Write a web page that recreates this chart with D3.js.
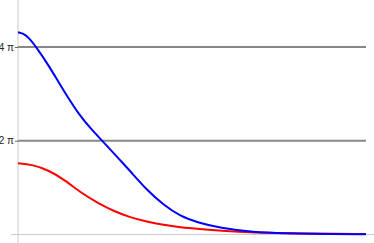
<!DOCTYPE html>
<html>
<head>
<meta charset="utf-8">
<script src="https://cdn.jsdelivr.net/npm/d3@7"></script>
<style>
  body { margin: 0; background: #fff; }
  svg { display: block; }
</style>
</head>
<body>
<script>
    // blue curve
    var blueT = [0, 0.15, 0.30, 0.54, 0.87, 1.16, 1.45, 1.73, 2.12, 2.45, 2.93, 3.22, 3.70, 4.18, 4.66, 5.18, 5.80, 6.75, 7.72, 8.68, 10];
    var blueV = [13.55, 13.47, 13.22, 12.52, 11.36, 10.24, 9.13, 8.12, 7.00, 6.22, 4.99, 4.26, 2.99, 1.98, 1.22, 0.79, 0.44, 0.15, 0.08, 0.03, 0.01];

    // red curve
    var redT = [0, 0.39, 0.87, 1.35, 1.83, 2.31, 2.79, 3.22, 3.70, 4.18, 4.66, 5.23, 5.80, 6.75, 8.10, 10];
    var redV = [4.77, 4.70, 4.32, 3.65, 2.76, 2.09, 1.53, 1.15, 0.86, 0.64, 0.48, 0.36, 0.25, 0.13, 0.07, 0.03];

    var yTicks = [2 * Math.PI, 4 * Math.PI];
    var yTickLabels = ["2 \u03c0", "4 \u03c0"];

    var width = 374, height = 243;
    var x0 = 18, x1 = 366, yBase = 234.5;

    var x = d3.scaleLinear().domain([0, 10]).range([x0, x1]);
    var y = d3.scaleLinear().domain([0, 4.4 * Math.PI]).range([yBase, yBase - 4.4 * 46.875]);

    var svg = d3.select("body").append("svg").attr("width", width).attr("height", height);

    // axes lines
    svg.append("line")
        .attr("x1", x0).attr("x2", x0).attr("y1", 0).attr("y2", height)
        .style("stroke", "#cccccc").style("stroke-width", 1);
    svg.append("line")
        .attr("x1", 11).attr("x2", width).attr("y1", yBase).attr("y2", yBase)
        .style("stroke", "#cccccc").style("stroke-width", 1);

    // grid lines
    svg.append("g").selectAll("line")
        .data(yTicks)
        .enter()
        .append("line")
            .attr("x1", x0).attr("x2", x1)
            .attr("y1", function (d) { return y(d); })
            .attr("y2", function (d) { return y(d); })
            .style("stroke", "#888888").style("stroke-width", 2);

    var yAxis = d3.axisLeft(y)
        .tickValues(yTicks)
        .tickSize(3)
        .tickPadding(1)
        .tickFormat(function (d, i) { return yTickLabels[i]; });

    var gy = svg.append("g").attr("transform", "translate(" + x0 + ",0)").call(yAxis);
    gy.select(".domain").remove();
    gy.selectAll(".tick line").style("stroke", "#666666");
    gy.selectAll(".tick text")
        .style("font-family", "'Liberation Sans', Arial, sans-serif")
        .style("font-size", "10px")
        .style("fill", "#222");

    var line = d3.line()
        .x(function (d) { return x(d[0]); })
        .y(function (d) { return y(d[1]); })
        .curve(d3.curveBasis);

    svg.append("path")
        .datum(d3.zip(redT, redV))
        .attr("d", line)
        .style("fill", "none").style("stroke", "#ff0000").style("stroke-width", 2);

    svg.append("path")
        .datum(d3.zip(blueT, blueV))
        .attr("d", line)
        .style("fill", "none").style("stroke", "#0000ff").style("stroke-width", 2);
</script>
</body>
</html>
